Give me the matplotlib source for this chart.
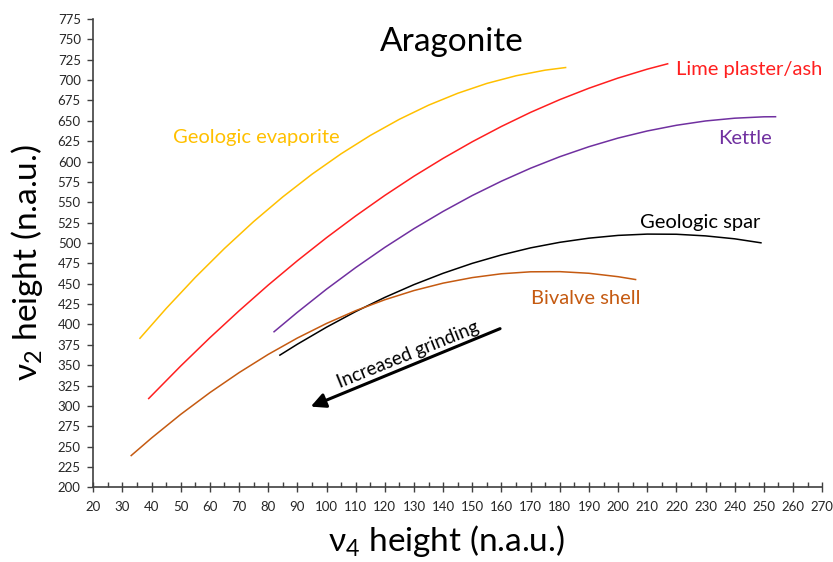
import matplotlib
matplotlib.use('Agg')
import matplotlib.pyplot as plt
from matplotlib.ticker import MultipleLocator

plt.rcParams['font.family'] = ['Lato', 'DejaVu Sans']
plt.rcParams['mathtext.default'] = 'regular'

# v4 / v2 band heights (n.a.u.) for each aragonite source
evap_x = [36, 45, 55, 65, 75, 85, 95, 105, 115, 125, 135, 145, 155, 165, 175, 182]
evap_y = [383, 419.6, 457.8, 493.3, 526.3, 556.6, 584.4, 609.5, 632.0, 651.9,
          669.2, 683.8, 695.9, 705.3, 712.2, 715.4]

lime_x = [39, 50, 60, 70, 80, 90, 100, 110, 120, 130, 140, 150, 160, 170, 180,
          190, 200, 210, 217]
lime_y = [309.0, 349.0, 383.7, 416.7, 448.3, 478.2, 506.5, 533.2, 558.4, 582.0,
          603.9, 624.3, 643.1, 660.4, 676.0, 690.0, 702.5, 713.4, 720.0]

kettle_x = [82, 90, 100, 110, 120, 130, 140, 150, 160, 170, 180, 190, 200, 210,
            220, 230, 240, 250, 254]
kettle_y = [391, 414.9, 443.3, 469.8, 494.6, 517.6, 538.8, 558.3, 575.9, 591.8,
            605.9, 618.2, 628.8, 637.5, 644.5, 649.8, 653.2, 654.9, 655.0]

spar_x = [84, 90, 100, 110, 120, 130, 140, 150, 160, 170, 180, 190, 200, 210,
          220, 230, 240, 249]
spar_y = [362.3, 375.7, 396.6, 415.8, 433.2, 448.9, 462.8, 475.0, 485.3, 494.0,
          500.8, 505.9, 509.3, 510.9, 510.7, 508.7, 505.1, 500.2]

shell_x = [33, 40, 50, 60, 70, 80, 90, 100, 110, 120, 130, 140, 150, 160, 170,
           180, 190, 200, 206]
shell_y = [239.0, 260.6, 289.6, 316.3, 340.8, 363.2, 383.3, 401.2, 416.9, 430.3,
           441.6, 450.7, 457.5, 462.2, 464.6, 464.8, 462.8, 458.6, 455.1]

series = [
    (evap_x, evap_y, '#FFC000', 'Geologic evaporite', (76, 630), 'center'),
    (lime_x, lime_y, '#FF1F1F', 'Lime plaster/ash', (220, 713.5), 'left'),
    (kettle_x, kettle_y, '#7030A0', 'Kettle', (243.7, 628.7), 'center'),
    (spar_x, spar_y, '#000000', 'Geologic spar', (228.3, 525), 'center'),
    (shell_x, shell_y, '#C55A11', 'Bivalve shell', (189, 432), 'center'),
]

fig = plt.figure(figsize=(8.33, 5.62), dpi=100)
ax = fig.add_axes([0.112, 0.1329, 0.875, 0.8333])

for xs, ys, col, name, pos, ha in series:
    ax.plot(xs, ys, color=col, lw=1.1)
    ax.text(pos[0], pos[1], name, color=col, fontsize=14.5, ha=ha, va='center')

ax.text(143, 747, 'Aragonite', fontsize=24, ha='center', va='center')

# grinding trend arrow
ax.annotate('', xy=(93.7, 297.8), xytext=(160.4, 396.1),
            arrowprops=dict(arrowstyle='-|>', color='black', lw=2.2,
                            mutation_scale=22))
ax.text(128, 362.5, 'Increased grinding', fontsize=13.5, rotation=22,
        ha='center', va='center', rotation_mode='anchor')

ax.set_xlim(20, 270)
ax.set_ylim(200, 775)
ax.xaxis.set_major_locator(MultipleLocator(10))
ax.xaxis.set_minor_locator(MultipleLocator(5))
ax.yaxis.set_major_locator(MultipleLocator(25))

for side in ['top', 'right']:
    ax.spines[side].set_visible(False)
for side in ['left', 'bottom']:
    ax.spines[side].set_color('#404040')
    ax.spines[side].set_linewidth(1.2)

ax.tick_params(axis='x', which='major', direction='inout', length=7, width=1,
               color='#404040', labelsize=9.5, pad=6, labelcolor='#262626')
ax.tick_params(axis='x', which='minor', direction='in', length=3.5, width=1,
               color='#404040')
ax.tick_params(axis='y', which='major', direction='out', length=4, width=1,
               color='#404040', labelsize=9.5, pad=5, labelcolor='#262626')

ax.set_xlabel('ν$_4$ height (n.a.u.)', fontsize=24, va='center')
ax.set_ylabel('ν$_2$ height (n.a.u.)', fontsize=24, va='center')
ax.xaxis.set_label_coords(0.485, -0.1147)
ax.yaxis.set_label_coords(-0.091, 0.479)

fig.savefig('out.png', dpi=100)
